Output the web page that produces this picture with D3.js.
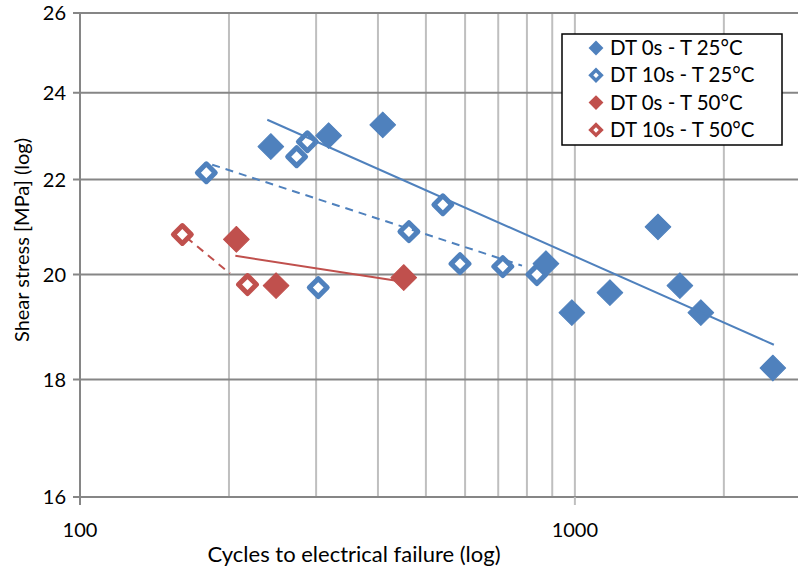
<!DOCTYPE html>
<html>
<head>
<meta charset="utf-8">
<script src="https://cdn.jsdelivr.net/npm/d3@7"></script>
<style>
  body { margin: 0; background: #fff; }
  text { font-family: Lato, "Noto Sans", sans-serif; fill: #000; }
</style>
</head>
<body>
<div id="chart"></div>
<script>
// Chart size
const width = 798;
const height = 572;

// Series data: [cycles, shear stress]
const dt0s25 = [[243, 22.74], [318, 22.99], [409, 23.24], [874, 20.22], [986, 19.25],
  [1177, 19.64], [1472, 20.98], [1630, 19.78], [1797, 19.25], [2512, 18.21]];
const dt10s25 = [[180, 22.15], [274, 22.51], [288, 22.85], [303, 19.74], [462, 20.88],
  [541, 21.45], [586, 20.22], [715, 20.16], [838, 20.0]];
const dt0s50 = [[207, 20.72], [249, 19.78], [451, 19.94]];
const dt10s50 = [[161, 20.82], [218, 19.8]];

// Trendline end points
const trend0s25 = [[239, 23.36], [2524, 18.64]];
const trend10s25 = [[185, 22.33], [782, 20.18]];
const trend0s50 = [[206, 20.38], [433, 19.88]];
const trend10s50 = [[164, 20.76], [201, 20.02]];

// Tick labels
const xTicks = [100, 1000];
const xMinorTicks = [200, 300, 400, 500, 600, 700, 800, 900, 2000, 3000];
const yTicks = [16, 18, 20, 22, 24, 26];

const legendLabels = ["DT 0s - T 25°C", "DT 10s - T 25°C", "DT 0s - T 50°C", "DT 10s - T 50°C"];

const blue = "#4F81BD";
const red = "#C0504D";

const svg = d3.select("#chart")
  .append("svg")
  .attr("width", width)
  .attr("height", height);

// Scales (log on both axes)
const x = d3.scaleLog().domain([100, 3000]).range([80, 811]);
const y = d3.scaleLog().domain([16, 26]).range([497, 13]);

// Vertical grid lines
svg.selectAll(".vgrid")
  .data(xMinorTicks.concat(xTicks.slice(1)))
  .enter().append("line")
  .attr("x1", d => x(d)).attr("x2", d => x(d))
  .attr("y1", y(26)).attr("y2", y(16))
  .style("stroke", "#BFBFBF")
  .style("stroke-width", 2);

// Horizontal grid lines
svg.selectAll(".hgrid")
  .data(yTicks)
  .enter().append("line")
  .attr("x1", 73).attr("x2", width)
  .attr("y1", d => y(d)).attr("y2", d => y(d))
  .style("stroke", "#868686")
  .style("stroke-width", 2);

// Left axis line
svg.append("line")
  .attr("x1", x(100)).attr("x2", x(100))
  .attr("y1", y(26)).attr("y2", y(16) + 8)
  .style("stroke", "#868686")
  .style("stroke-width", 2);

// Tick mark at 1000
svg.append("line")
  .attr("x1", x(1000)).attr("x2", x(1000))
  .attr("y1", y(16)).attr("y2", y(16) + 8)
  .style("stroke", "#BFBFBF")
  .style("stroke-width", 2);

// Y tick labels
svg.selectAll(".ylabel")
  .data(yTicks)
  .enter().append("text")
  .attr("x", 66)
  .attr("y", d => y(d))
  .attr("dy", "0.35em")
  .attr("text-anchor", "end")
  .style("font-size", "20px")
  .text(d => d);

// X tick labels
svg.selectAll(".xlabel")
  .data(xTicks)
  .enter().append("text")
  .attr("x", d => x(d))
  .attr("y", 537)
  .attr("text-anchor", "middle")
  .style("font-size", "20px")
  .text(d => d);

// Axis titles
svg.append("text")
  .attr("x", 354)
  .attr("y", 562)
  .attr("text-anchor", "middle")
  .style("font-size", "22px")
  .text("Cycles to electrical failure (log)");

svg.append("text")
  .attr("transform", "translate(29,240) rotate(-90)")
  .attr("text-anchor", "middle")
  .style("font-size", "20px")
  .text("Shear stress [MPa] (log)");

// Diamond marker helpers
const bigDiamond = d3.symbol().type(d3.symbolSquare).size(330);
const hollowDiamond = d3.symbol().type(d3.symbolSquare).size(160);

function drawFilled(data, color) {
  svg.append("g").selectAll("path")
    .data(data)
    .enter().append("path")
    .attr("d", bigDiamond)
    .attr("transform", d => `translate(${x(d[0])},${y(d[1])}) rotate(45)`)
    .style("fill", color)
    .style("stroke", color)
    .style("stroke-width", 1)
    .style("stroke-linejoin", "round");
}

function drawHollow(data, color) {
  svg.append("g").selectAll("path")
    .data(data)
    .enter().append("path")
    .attr("d", hollowDiamond)
    .attr("transform", d => `translate(${x(d[0])},${y(d[1])}) rotate(45)`)
    .style("fill", "white")
    .style("stroke", color)
    .style("stroke-width", 5)
    .style("stroke-linejoin", "round");
}

drawHollow(dt10s25, blue);
drawFilled(dt0s25, blue);
drawFilled(dt0s50, red);
drawHollow(dt10s50, red);

// Trendlines
const line = d3.line().x(d => x(d[0])).y(d => y(d[1]));

function drawTrend(data, color, dashed) {
  svg.append("path")
    .datum(data)
    .attr("d", line)
    .style("fill", "none")
    .style("stroke", color)
    .style("stroke-width", 2)
    .style("stroke-dasharray", dashed ? "8,6" : null);
}

drawTrend(trend0s25, blue, false);
drawTrend(trend10s25, blue, true);
drawTrend(trend0s50, red, false);
drawTrend(trend10s50, red, true);

// Legend
const legend = svg.append("g");
legend.append("rect")
  .attr("x", 562).attr("y", 34)
  .attr("width", 220).attr("height", 111)
  .style("fill", "white")
  .style("stroke", "black")
  .style("stroke-width", 1.5);

const legendColors = [blue, blue, red, red];
const legendHollow = [false, true, false, true];

legendLabels.forEach(function (label, i) {
  const ly = 48 + i * 27.3;
  const sym = legend.append("path")
    .attr("transform", `translate(596,${ly}) rotate(45)`);
  if (legendHollow[i]) {
    sym.attr("d", d3.symbol().type(d3.symbolSquare).size(55))
      .style("fill", "white")
      .style("stroke", legendColors[i])
      .style("stroke-width", 3.5);
  } else {
    sym.attr("d", d3.symbol().type(d3.symbolSquare).size(110))
      .style("fill", legendColors[i]);
  }
  legend.append("text")
    .attr("x", 610)
    .attr("y", ly)
    .attr("dy", "0.35em")
    .style("font-size", "20.5px")
    .text(label);
});
</script>
</body>
</html>
